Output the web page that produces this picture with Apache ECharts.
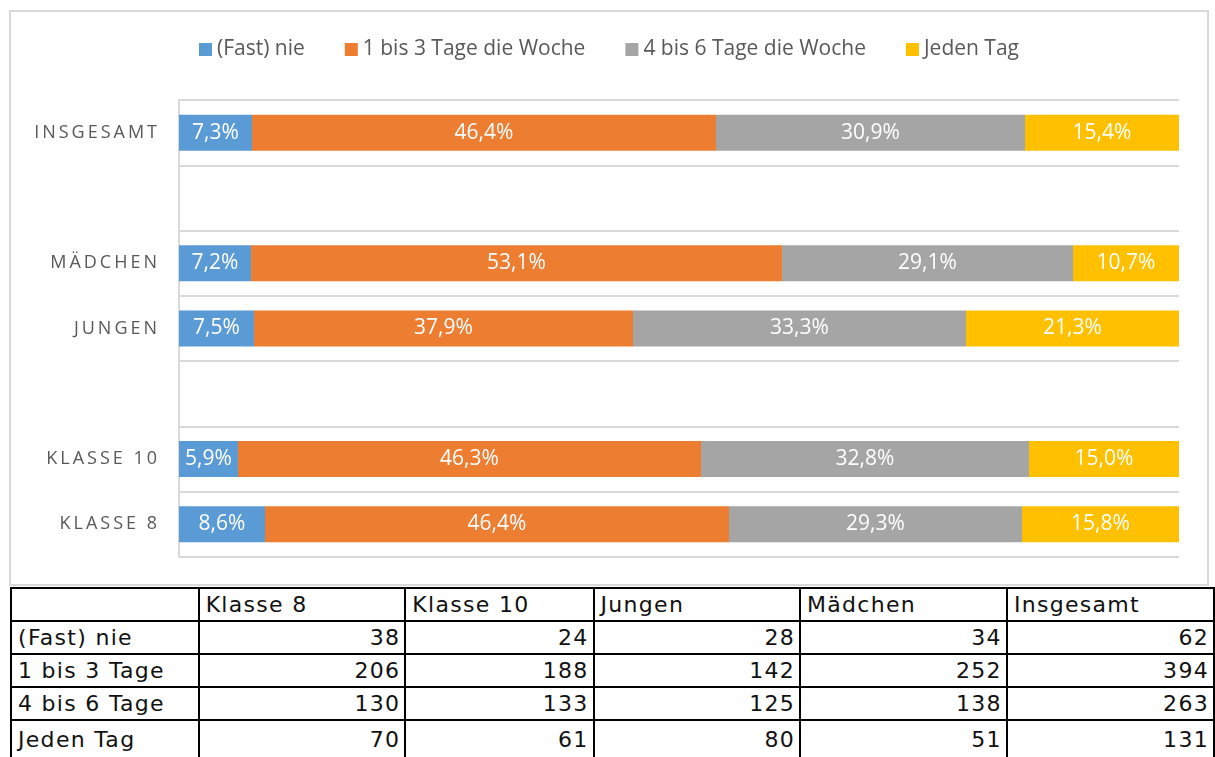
<!DOCTYPE html>
<html>
<head>
<meta charset="utf-8">
<script src="https://cdn.jsdelivr.net/npm/echarts@6/dist/echarts.min.js"></script>
<style>
  html, body { margin: 0; padding: 0; background: #fff; overflow: hidden; }
  #chart {
    position: absolute; left: 9px; top: 10px; width: 1200px; height: 576px;
    border: 2px solid #d9d9d9; box-sizing: border-box;
  }
  #tbl {
    position: absolute; left: 10px; top: 587px;
    border-collapse: collapse;
    font-family: "DejaVu Sans", sans-serif; font-size: 22px; letter-spacing: 1.3px;
    color: #111;
  }
  #tbl td { border: 2px solid #000; height: 31px; padding: 0 6px; line-height: 31px; white-space: nowrap; }
  #tbl td.num { text-align: right; padding-right: 4px; }
  #tbl tr.last td { height: 38px; line-height: 38px; }
</style>
</head>
<body>
<div id="chart"></div>
<table id="tbl"></table>
<script>
// Kategorien von unten nach oben (zwei leere Zeilen als Abstand)
const categories = ['Klasse 8', 'Klasse 10', '', 'Jungen', 'Mädchen', ' ', 'Insgesamt'];
const seriesNames = ['(Fast) nie', '1 bis 3 Tage die Woche', '4 bis 6 Tage die Woche', 'Jeden Tag'];
const colors = ['#5B9BD5', '#ED7D31', '#A5A5A5', '#FFC000'];

// Prozentwerte
const fastNie = [8.6, 5.9, null, 7.5, 7.2, null, 7.3];
const tage13 = [46.4, 46.3, null, 37.9, 53.1, null, 46.4];
const tage46 = [29.3, 32.8, null, 33.3, 29.1, null, 30.9];
const jedenTag = [15.8, 15.0, null, 21.3, 10.7, null, 15.4];

// Tabelle (absolute Zahlen)
const tableCols = ['Klasse 8', 'Klasse 10', 'Jungen', 'Mädchen', 'Insgesamt'];
const tableRows = ['(Fast) nie', '1 bis 3 Tage', '4 bis 6 Tage', 'Jeden Tag'];
const countNie = [38, 24, 28, 34, 62];
const count13 = [206, 188, 142, 252, 394];
const count46 = [130, 133, 125, 138, 263];
const countJeden = [70, 61, 80, 51, 131];

const chart = echarts.init(document.getElementById('chart'));

const spaced = s => s.toUpperCase().split('').join('\u2009');
const fmt = p => p.value == null ? '' : p.value.toFixed(1).replace('.', ',') + '%';

const allData = [fastNie, tage13, tage46, jedenTag];

const option = {
    animation: false,
    textStyle: { fontFamily: 'Open Sans' },
    color: colors,
    legend: {
        top: 22,
        left: 'center',
        icon: 'rect',
        itemWidth: 13,
        itemHeight: 13,
        itemGap: 40,
        textStyle: { fontSize: 21, color: '#595959', fontFamily: 'Open Sans' },
        data: seriesNames
    },
    grid: { left: 168, right: 28, top: 88, bottom: 27 },
    xAxis: {
        type: 'value', min: 0, max: 100,
        show: false
    },
    yAxis: {
        type: 'category',
        data: categories,
        axisLine: { show: true, lineStyle: { color: '#d9d9d9', width: 2 } },
        axisTick: { show: false },
        splitLine: { show: true, lineStyle: { color: '#d9d9d9', width: 2 } },
        axisLabel: {
            margin: 22,
            fontSize: 18,
            color: '#595959',
            fontFamily: 'Open Sans',
            formatter: v => spaced(v.trim())
        }
    },
    series: seriesNames.map((name, i) => ({
        name: name,
        type: 'bar',
        stack: 'total',
        barWidth: 36,
        data: allData[i],
        label: {
            show: true,
            color: '#fff',
            fontSize: 21,
            fontFamily: 'Open Sans',
            formatter: fmt
        }
    }))
};

chart.setOption(option);

// Tabelle bauen
const tbl = document.getElementById('tbl');
const widths = [188, 208, 189, 208, 208, 208];
let html = '<tr>';
html += '<td style="width:' + (widths[0] - 14) + 'px"></td>';
tableCols.forEach((c, i) => { html += '<td style="width:' + (widths[i + 1] - 14) + 'px">' + c + '</td>'; });
html += '</tr>';
const rowsData = [countNie, count13, count46, countJeden];
rowsData.forEach((row, r) => {
    html += '<tr' + (r === rowsData.length - 1 ? ' class="last"' : '') + '><td>' + tableRows[r] + '</td>';
    row.forEach(v => { html += '<td class="num">' + v + '</td>'; });
    html += '</tr>';
});
tbl.innerHTML = html;
</script>
</body>
</html>
